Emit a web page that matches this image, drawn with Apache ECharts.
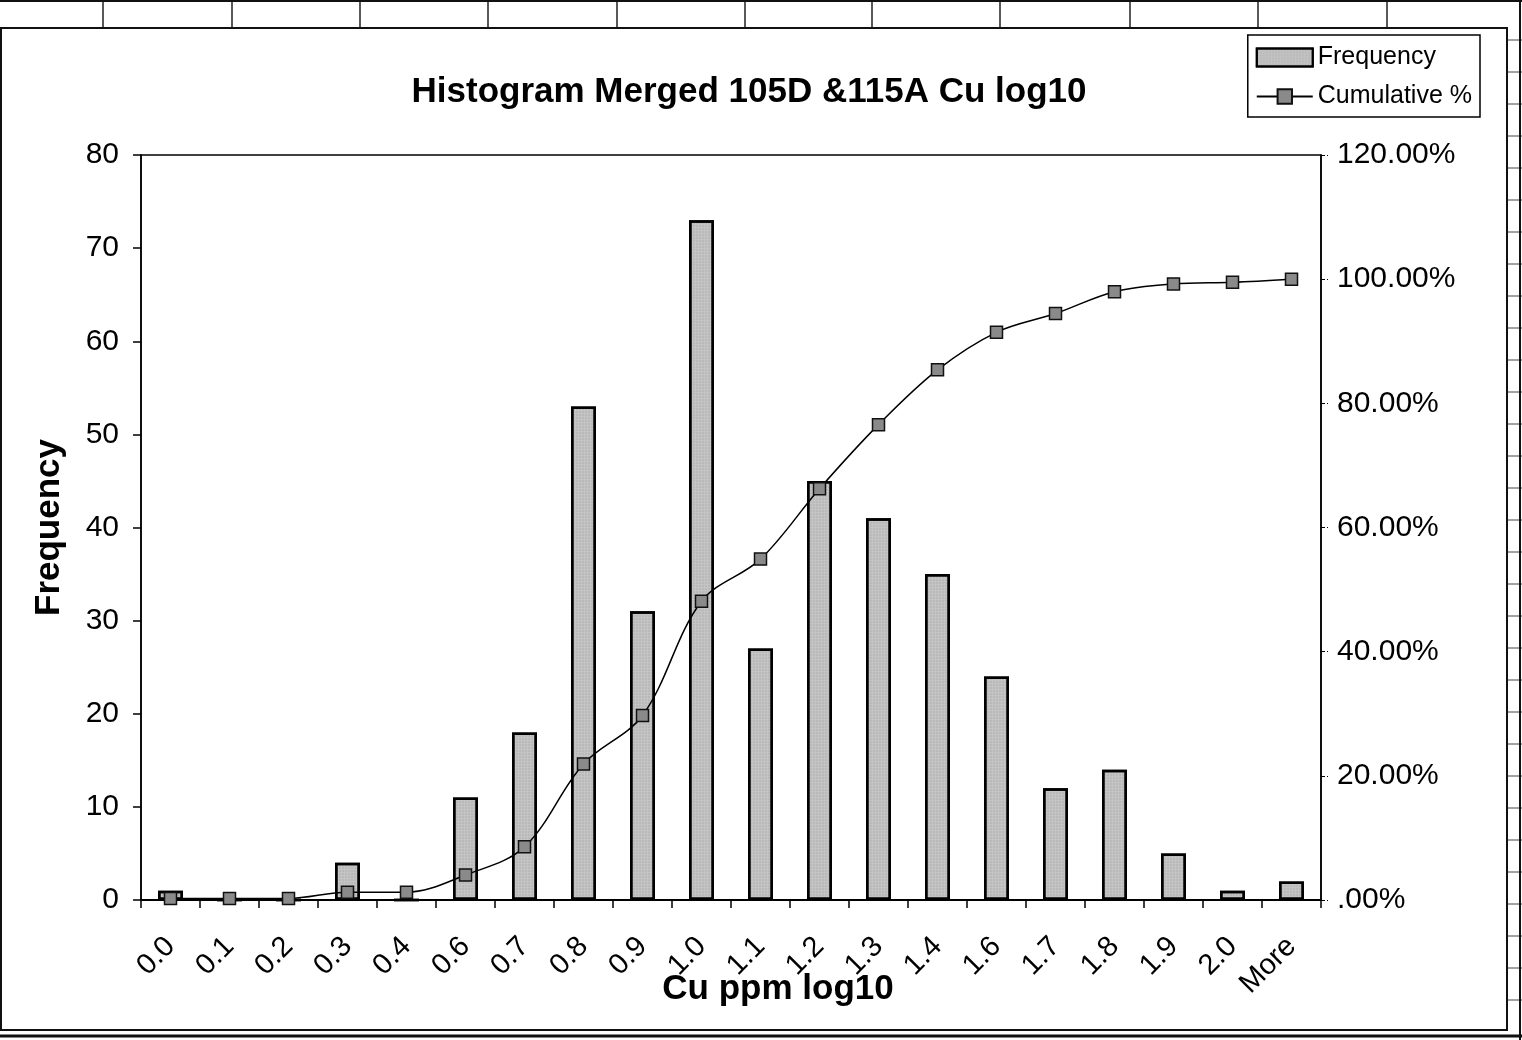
<!DOCTYPE html>
<html>
<head>
<meta charset="utf-8">
<script src="https://cdn.jsdelivr.net/npm/echarts@6/dist/echarts.min.js"></script>
<style>
  html, body { margin: 0; padding: 0; background: #fff; }
  #chart { width: 1522px; height: 1040px; }
</style>
</head>
<body>
<div id="chart"></div>
<script>
// Bin labels (log10 Cu ppm upper bounds)
const bins = ['0.0','0.1','0.2','0.3','0.4','0.6','0.7','0.8','0.9','1.0','1.1','1.2','1.3','1.4','1.6','1.7','1.8','1.9','2.0','More'];
// Sample counts per bin
const frequency = [1, 0, 0, 4, 0, 11, 18, 53, 31, 73, 27, 45, 41, 35, 24, 12, 14, 5, 1, 2];
// Running cumulative percentage
const cumulativePct = [0.25, 0.25, 0.25, 1.26, 1.26, 4.03, 8.56, 21.91, 29.72, 48.11, 54.91, 66.25, 76.57, 85.39, 91.44, 94.46, 97.98, 99.24, 99.50, 100.00];
// Axis ranges
const freqTicks = { min: 0, max: 80, interval: 10 };
const pctTicks = { min: 0, max: 120, interval: 20 };

const FONT = '"Liberation Sans", Arial, sans-serif';
const chart = echarts.init(document.getElementById('chart'));

// Spreadsheet cell lines around the embedded chart
const sheetLines = [];
[103, 232, 360, 488, 617, 745, 872, 1000, 1130, 1258, 1387].forEach(x => {
  sheetLines.push({ type: 'line', shape: { x1: x, y1: 0, x2: x, y2: 28 }, style: { stroke: '#222', lineWidth: 1.5 } });
});
for (let y = 40; y < 1030; y += 32) {
  sheetLines.push({ type: 'line', shape: { x1: 1508, y1: y, x2: 1522, y2: y }, style: { stroke: '#444', lineWidth: 1 } });
}
sheetLines.push({ type: 'rect', shape: { x: 1, y: 28, width: 1506, height: 1002 }, style: { fill: 'none', stroke: '#111', lineWidth: 2 } });
sheetLines.push({ type: 'line', shape: { x1: 0, y1: 1, x2: 1522, y2: 1 }, style: { stroke: '#111', lineWidth: 2 } });
sheetLines.push({ type: 'line', shape: { x1: 1520, y1: 0, x2: 1520, y2: 1040 }, style: { stroke: '#111', lineWidth: 2 } });
sheetLines.push({ type: 'line', shape: { x1: 0, y1: 1036, x2: 1522, y2: 1036 }, style: { stroke: '#111', lineWidth: 3 } });

chart.setOption({
  backgroundColor: '#fff',
  animation: false,
  title: {
    text: 'Histogram Merged 105D &115A Cu log10',
    left: 744, top: 70, textAlign: 'center',
    textStyle: { fontFamily: FONT, fontSize: 35, fontWeight: 'bold', color: '#000' }
  },
  legend: {
    right: 42, top: 35,
    orient: 'vertical',
    itemGap: 14,
    itemWidth: 56, itemHeight: 18,
    padding: [10, 8, 8, 8],
    borderColor: '#000', borderWidth: 1.5,
    textStyle: { fontFamily: FONT, fontSize: 25, color: '#000' },
    data: [{ name: 'Frequency', icon: 'rect' }, { name: 'Cumulative %' }]
  },
  grid: {
    left: 141, right: 201, top: 155, bottom: 140,
    outerBoundsMode: 'none',
    show: true, borderColor: '#000', borderWidth: 1.5, backgroundColor: 'transparent'
  },
  graphic: sheetLines,
  xAxis: {
    type: 'category',
    data: bins,
    name: 'Cu ppm log10',
    nameLocation: 'middle',
    nameGap: 72,
    nameMoveOverlap: false,
    nameTextStyle: { fontFamily: FONT, fontSize: 35, fontWeight: 'bold', color: '#000', padding: [0, 0, 0, 94] },
    axisLine: { lineStyle: { color: '#000', width: 2 } },
    axisTick: { show: true, length: 8, lineStyle: { color: '#000', width: 1.5 } },
    axisLabel: { rotate: 45, fontFamily: FONT, fontSize: 29, color: '#000', margin: 42, interval: 0 }
  },
  yAxis: [
    {
      type: 'value',
      ...freqTicks,
      name: 'Frequency',
      nameLocation: 'middle',
      nameGap: 74,
      nameMoveOverlap: false,
      nameTextStyle: { fontFamily: FONT, fontSize: 35, fontWeight: 'bold', color: '#000' },
      axisLine: { show: true, lineStyle: { color: '#000', width: 1.5 } },
      axisTick: { show: true, length: 8, lineStyle: { color: '#000', width: 1.5 } },
      splitLine: { show: false },
      axisLabel: { fontFamily: FONT, fontSize: 30, color: '#000', margin: 22 }
    },
    {
      type: 'value',
      ...pctTicks,
      position: 'right',
      axisLine: { show: true, lineStyle: { color: '#000', width: 1.5 } },
      axisTick: { show: true, length: 7, lineStyle: { color: '#000', width: 1, type: 'dashed' } },
      splitLine: { show: false },
      axisLabel: {
        fontFamily: FONT, fontSize: 30, color: '#000', margin: 16,
        formatter: v => v === 0 ? '.00%' : v.toFixed(2) + '%'
      }
    }
  ],
  series: [
    {
      name: 'Frequency',
      type: 'bar',
      yAxisIndex: 0,
      data: frequency,
      barWidth: 25,
      itemStyle: {
        color: '#c4c4c4',
        borderColor: '#000',
        borderWidth: 2.5,
        decal: { symbol: 'circle', symbolSize: 0.6, dashArrayX: [2, 1], dashArrayY: [2, 1], color: 'rgba(90,90,90,0.45)' }
      }
    },
    {
      name: 'Cumulative %',
      type: 'line',
      yAxisIndex: 1,
      data: cumulativePct,
      smooth: 0.35,
      symbol: 'rect',
      symbolSize: 12,
      lineStyle: { color: '#000', width: 1.5 },
      itemStyle: { color: '#8a8a8a', borderColor: '#111', borderWidth: 1.5 }
    }
  ]
});
</script>
</body>
</html>
